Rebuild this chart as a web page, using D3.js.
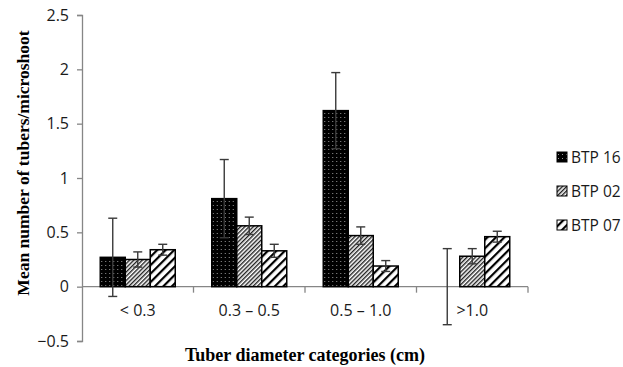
<!DOCTYPE html>
<html>
<head>
<meta charset="utf-8">
<script src="https://cdn.jsdelivr.net/npm/d3@7"></script>
<style>
  body { margin: 0; background: #fff; }
  svg { display: block; }
</style>
</head>
<body>
<svg id="chart" width="623" height="367"></svg>
<script>
const categories = ["< 0.3", "0.3 \u2013 0.5", "0.5 \u2013 1.0", ">1.0"]
const seriesNames = ["BTP 16", "BTP 02", "BTP 07"]
const btp16 = [0.27, 0.81, 1.62, 0]
const btp02 = [0.25, 0.56, 0.47, 0.28]
const btp07 = [0.34, 0.33, 0.19, 0.46]
const err16 = [0.36, 0.36, 0.35, 0.35]
const err02 = [0.07, 0.08, 0.08, 0.07]
const err07 = [0.05, 0.06, 0.05, 0.05]
const yTicks = [-0.5, 0, 0.5, 1, 1.5, 2, 2.5]

const series = [
    { name: seriesNames[0], values: btp16, errs: err16, pat: "p16" },
    { name: seriesNames[1], values: btp02, errs: err02, pat: "p02" },
    { name: seriesNames[2], values: btp07, errs: err07, pat: "p07" }
]

const svg = d3.select("#chart")
const plotLeft = 82, plotRight = 528, plotTop = 15, plotBottom = 341
const axisColor = "#868686"
const sans = "Open Sans, sans-serif"
const serif = "Liberation Serif, serif"

// patterns
const defs = svg.append("defs")
const p16 = defs.append("pattern").attr("id", "p16").attr("patternUnits", "userSpaceOnUse")
    .attr("width", 4).attr("height", 4)
p16.append("rect").attr("width", 4).attr("height", 4).attr("fill", "#000")
p16.append("rect").attr("x", 1).attr("y", 1).attr("width", 1).attr("height", 1).attr("fill", "#9a9a9a")

const p02 = defs.append("pattern").attr("id", "p02").attr("patternUnits", "userSpaceOnUse")
    .attr("width", 3).attr("height", 3).attr("patternTransform", "rotate(-45)")
p02.append("rect").attr("width", 3).attr("height", 3).attr("fill", "#fff")
p02.append("rect").attr("width", 3).attr("height", 1.4).attr("fill", "#222")

const p07 = defs.append("pattern").attr("id", "p07").attr("patternUnits", "userSpaceOnUse")
    .attr("width", 6).attr("height", 6).attr("patternTransform", "rotate(45)")
p07.append("rect").attr("width", 6).attr("height", 6).attr("fill", "#fff")
p07.append("rect").attr("width", 2.2).attr("height", 6).attr("fill", "#000")

const y = d3.scaleLinear().domain([-0.5, 2.5]).range([plotBottom, plotTop])
const x0 = d3.scaleBand().domain(categories).range([plotLeft, plotRight]).paddingInner(0).paddingOuter(0)
const groupW = 75
const x1 = d3.scaleBand().domain(seriesNames).range([0, groupW])

// y axis
const yAxis = svg.append("g").attr("transform", `translate(${plotLeft},0)`)
    .call(d3.axisLeft(y).tickValues(yTicks).tickSize(5).tickPadding(8).tickFormat(d3.format("")))
yAxis.select(".domain").attr("stroke", axisColor).attr("stroke-width", 1.3)
yAxis.selectAll(".tick line").attr("stroke", axisColor).attr("stroke-width", 1.3)
yAxis.selectAll(".tick text").attr("font-family", sans).attr("font-size", 16).attr("fill", "#1a1a1a")

// x axis at zero
const xAxis = svg.append("g").attr("transform", `translate(0,${y(0)})`)
xAxis.append("line").attr("x1", plotLeft).attr("x2", plotRight).attr("stroke", axisColor).attr("stroke-width", 1.3)
xAxis.selectAll("line.tk").data(categories).join("line").attr("class", "tk")
    .attr("x1", d => x0(d) + x0.bandwidth()).attr("x2", d => x0(d) + x0.bandwidth())
    .attr("y1", 0).attr("y2", 6).attr("stroke", axisColor).attr("stroke-width", 1.3)

// bars
const groups = svg.append("g").selectAll("g").data(categories).join("g")
    .attr("transform", d => `translate(${x0(d) + (x0.bandwidth() - groupW) / 2},0)`)

groups.each(function(cat, ci) {
    const g = d3.select(this)
    series.forEach(s => {
        const v = s.values[ci]
        if (v > 0) {
            g.append("rect")
                .attr("x", x1(s.name)).attr("width", x1.bandwidth())
                .attr("y", y(v)).attr("height", y(0) - y(v))
                .attr("fill", `url(#${s.pat})`)
                .attr("stroke", "#000").attr("stroke-width", 1.5)
        }
    })
    series.forEach(s => {
        const v = s.values[ci], e = s.errs[ci]
        const cx = x1(s.name) + x1.bandwidth() / 2
        const eg = g.append("g").attr("stroke", "#3a3a3a").attr("stroke-width", 1.4)
        eg.append("line").attr("x1", cx).attr("x2", cx).attr("y1", y(v + e)).attr("y2", y(v - e))
        eg.append("line").attr("x1", cx - 4.5).attr("x2", cx + 4.5).attr("y1", y(v + e)).attr("y2", y(v + e))
        eg.append("line").attr("x1", cx - 4.5).attr("x2", cx + 4.5).attr("y1", y(v - e)).attr("y2", y(v - e))
    })
})

// category labels
svg.append("g").selectAll("text").data(categories).join("text")
    .attr("x", d => x0(d) + x0.bandwidth() / 2).attr("y", 316)
    .attr("text-anchor", "middle")
    .attr("font-family", sans).attr("font-size", 16).attr("fill", "#1a1a1a")
    .text(d => d)

// axis titles
svg.append("text").attr("x", 305).attr("y", 361).attr("text-anchor", "middle")
    .attr("font-family", serif).attr("font-weight", "bold").attr("font-size", 18)
    .text("Tuber diameter categories (cm)")
svg.append("text").attr("transform", "translate(29,163) rotate(-90)").attr("text-anchor", "middle")
    .attr("font-family", serif).attr("font-weight", "bold").attr("font-size", 17.5)
    .text("Mean number of tubers/microshoot")

// legend
const legend = svg.append("g").selectAll("g").data(series).join("g")
    .attr("transform", (d, i) => `translate(557,${157 + i * 34})`)
legend.append("rect").attr("x", 0).attr("y", -5).attr("width", 10).attr("height", 10)
    .attr("fill", d => `url(#${d.pat})`).attr("stroke", "#000").attr("stroke-width", 1)
legend.append("text").attr("x", 14).attr("y", 6)
    .attr("font-family", sans).attr("font-size", 15.5).attr("fill", "#1a1a1a")
    .text(d => d.name)
</script>
</body>
</html>
